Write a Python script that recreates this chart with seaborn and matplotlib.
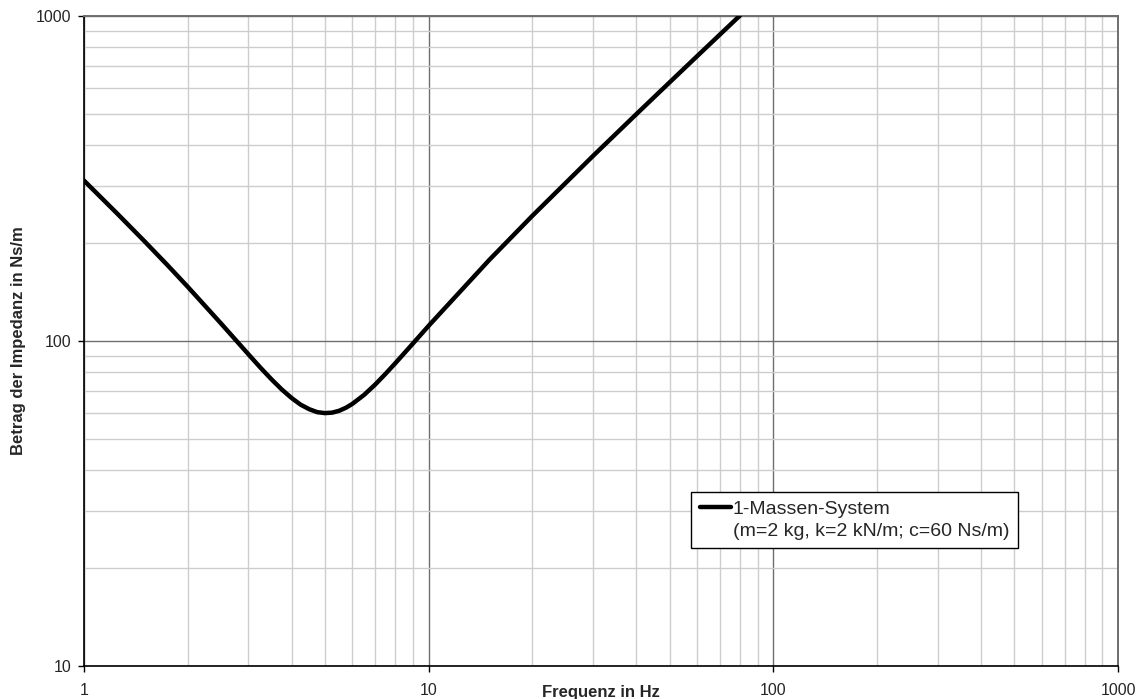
import matplotlib
matplotlib.use("Agg")
import matplotlib.pyplot as plt
import seaborn as sns
import pandas as pd
from matplotlib.lines import Line2D
from matplotlib.ticker import FixedLocator, NullFormatter, FixedFormatter

# Data
freq_hz = [1, 1.25, 1.5, 1.75, 2, 2.5, 3, 3.25, 3.5, 3.75, 4, 4.25, 4.5, 4.75, 5, 5.25, 5.5,
           5.75, 6, 6.5, 7, 7.5, 8, 9, 10, 15, 20, 30, 40, 50, 60, 70, 80]
impedance = [311.6, 246.3, 202.4, 170.8, 146.8, 113.1, 91.0, 82.8, 76.2, 70.9, 66.8, 63.7, 61.7,
             60.4, 60.0, 60.2, 61.0, 62.3, 64.0, 68.3, 73.5, 79.3, 85.4, 98.2, 111.4, 177.7,
             242.9, 371.3, 498.3, 624.8, 751.1, 877.1, 1003.1]
series_label = "1-Massen-System"
series_label2 = "(m=2 kg, k=2 kN/m; c=60 Ns/m)"
x_ticks = [1, 10, 100, 1000]
y_ticks = [10, 100, 1000]
x_label = "Frequenz in Hz"
y_label = "Betrag der Impedanz in Ns/m"

sns.set_style("white")
plt.rcParams['font.family'] = ['Liberation Sans', 'DejaVu Sans']

fig = plt.figure(figsize=(11.42, 6.99), dpi=100)
ax = fig.add_axes([84 / 1142, 33 / 699, 1034 / 1142, 650 / 699])

df = pd.DataFrame({"f": freq_hz, "z": impedance})
sns.lineplot(data=df, x="f", y="z", ax=ax, color="black", linewidth=3.2, zorder=5)

ax.set_xscale("log")
ax.set_yscale("log")
ax.set_xlim(1, 1000)
ax.set_ylim(10, 1000)

ax.xaxis.set_major_locator(FixedLocator(x_ticks))
ax.xaxis.set_major_formatter(FixedFormatter([str(v) for v in x_ticks]))
ax.yaxis.set_major_locator(FixedLocator(y_ticks))
ax.yaxis.set_major_formatter(FixedFormatter([str(v) for v in y_ticks]))
minor_x = [m * 10 ** e for e in range(0, 3) for m in range(2, 10)]
minor_y = [m * 10 ** e for e in range(1, 3) for m in range(2, 10)]
ax.xaxis.set_minor_locator(FixedLocator(minor_x))
ax.yaxis.set_minor_locator(FixedLocator(minor_y))
ax.xaxis.set_minor_formatter(NullFormatter())
ax.yaxis.set_minor_formatter(NullFormatter())

ax.grid(which="major", color="#6e6e6e", linewidth=1.0)
ax.grid(which="minor", color="#cdcdcd", linewidth=1.0)
ax.set_axisbelow(True)

ax.tick_params(which="major", direction="out", length=4, width=1, color="black",
               labelsize=11.5, bottom=True, left=True)
ax.tick_params(axis="x", which="major", pad=8)
ax.tick_params(axis="y", which="major", pad=5)
ax.tick_params(which="minor", length=0)

for side in ["left", "bottom"]:
    ax.spines[side].set_color("black")
    ax.spines[side].set_linewidth(1.2)
for side in ["top", "right"]:
    ax.spines[side].set_color("#6e6e6e")
    ax.spines[side].set_linewidth(1.4)

ax.set_xlabel(x_label, fontsize=12, fontweight="bold")
ax.xaxis.set_label_coords(0.5, -0.029)
ax.set_ylabel(y_label, fontsize=12, fontweight="bold")
ax.yaxis.set_label_coords(-0.056, 0.5)

handles = [Line2D([], [], color="black", linewidth=3.2),
           Line2D([], [], color="none", linewidth=0)]
leg = ax.legend(handles, [series_label, series_label2], loc="upper left",
                bbox_to_anchor=(0.587, 0.268), fontsize=14, frameon=True, fancybox=False,
                framealpha=1, edgecolor="black", handlelength=1.6, handletextpad=0.1,
                labelspacing=0.2, borderpad=0.45, borderaxespad=0)
leg.get_frame().set_linewidth(1.0)
leg.set_zorder(10)

fig.savefig("out.png", dpi=100, facecolor="white")
